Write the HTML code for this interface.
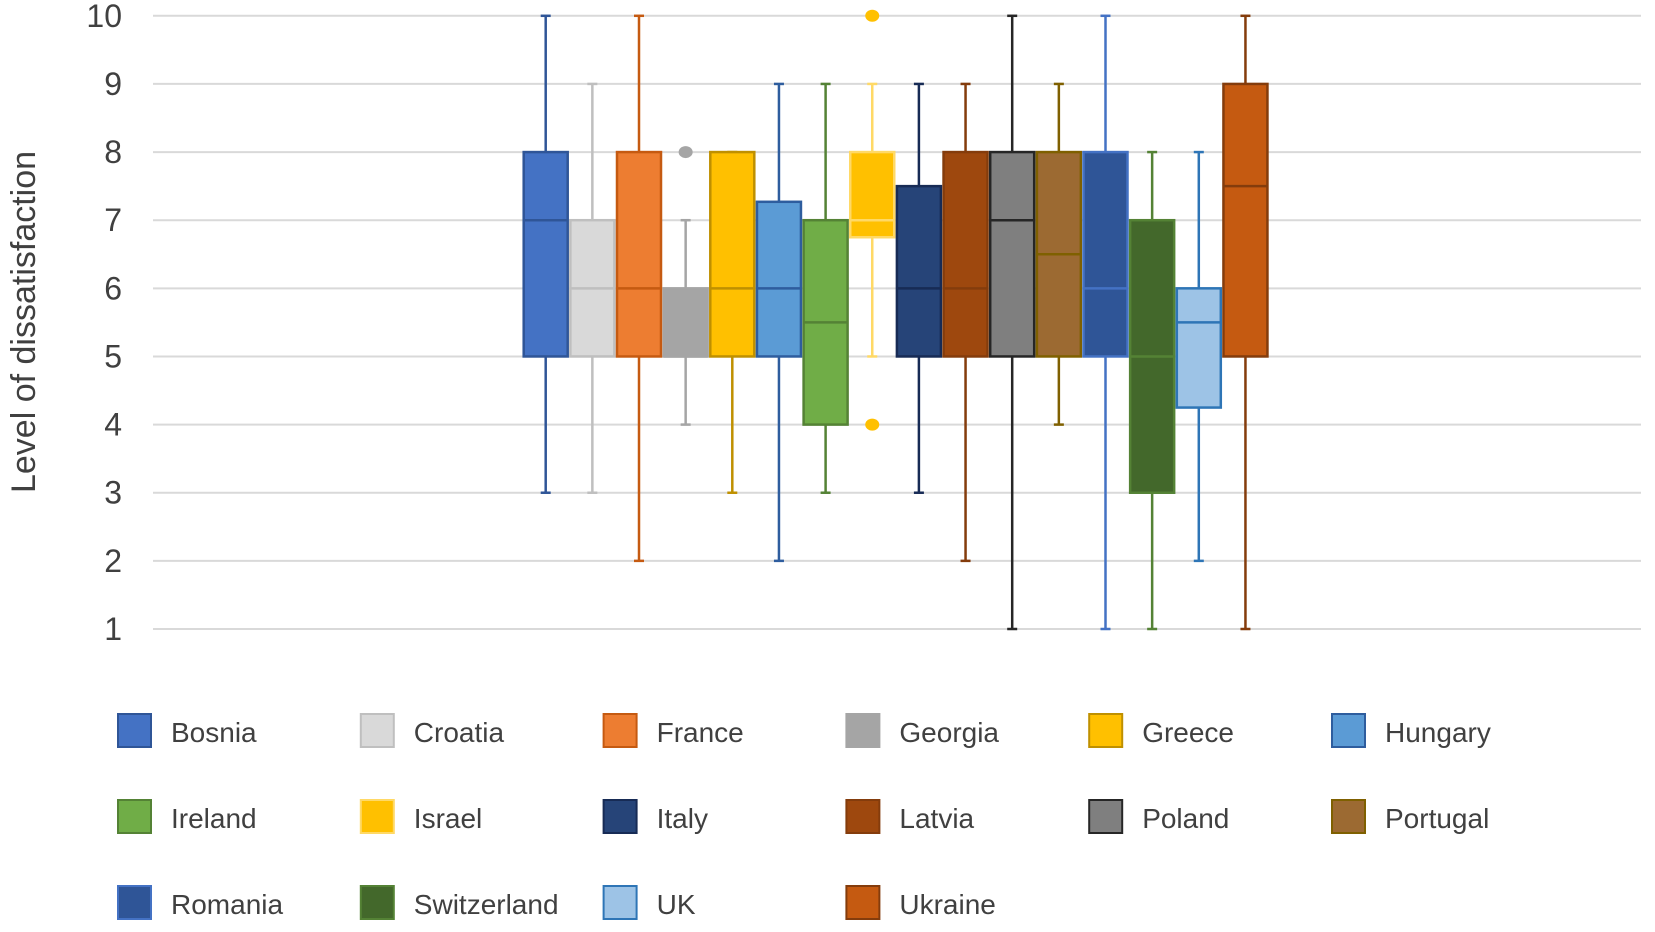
<!DOCTYPE html>
<html><head><meta charset="utf-8"><style>
html,body{margin:0;padding:0;background:#fff;}
svg{display:block;font-family:"Liberation Sans",sans-serif;}
</style></head><body>
<svg id="chart" width="1655" height="932" viewBox="0 0 1655 932" xmlns="http://www.w3.org/2000/svg">
<g id="grid"></g>
<g id="yticks"></g>
<text x="0" y="0" transform="translate(35,322) rotate(-90)" text-anchor="middle" font-size="34" fill="#404040">Level of dissatisfaction</text>
<g id="boxes"></g>
<g id="legend"></g>
</svg>
<script>
const categories=["Bosnia","Croatia","France","Georgia","Greece","Hungary","Ireland","Israel","Italy","Latvia","Poland","Portugal","Romania","Switzerland","UK","Ukraine"];
const mins=[3,3,2,4,3,2,3,5,3,2,1,4,1,1,2,1];
const q1s=[5,5,5,5,5,5,4,6.75,5,5,5,5,5,3,4.25,5];
const medians=[7,6,6,5,6,6,5.5,7,6,6,7,6.5,6,5,5.5,7.5];
const q3s=[8,7,8,6,8,7.27,7,8,7.5,8,8,8,8,7,6,9];
const maxs=[10,9,10,7,8,9,9,9,9,9,10,9,10,8,8,10];
const outliers=[[],[],[],[8],[],[],[],[4,10],[],[],[],[],[],[],[],[]];
const yTicks=[1,2,3,4,5,6,7,8,9,10];
const fills=["#4472c4","#d9d9d9","#ed7d31","#a5a5a5","#ffc000","#5b9bd5","#70ad47","#ffc000","#264478","#9e480e","#7f7f7f","#9c6a32","#2f5597","#43682b","#9dc3e6","#c55a11"];
const strokes=["#2f5597","#bfbfbf","#c55a11","#a5a5a5","#bf9000","#2e5d9e","#548235","#ffd966","#172b55","#843c0c","#262626","#7f6000","#4472c4","#548235","#2e75b6","#843c0c"];
const NS="http://www.w3.org/2000/svg";
const plotL=153,plotR=1641,yTop=15.8,yBot=629;
const y=v=>yBot-(v-1)*(yBot-yTop)/9;
const x=i=>545.7+i*46.65;
const bw=44;
function mk(tag,attrs,parent){const e=document.createElementNS(NS,tag);for(const k in attrs)e.setAttribute(k,attrs[k]);parent.appendChild(e);return e;}
const grid=document.getElementById('grid'),yt=document.getElementById('yticks'),bx=document.getElementById('boxes'),lg=document.getElementById('legend');
yTicks.forEach(t=>{
 const l=mk('line',{x1:plotL,x2:plotR,y1:y(t),y2:y(t),stroke:'#d9d9d9','stroke-width':2},grid);
 
 
 const tx=mk('text',{x:122,y:y(t)+11,'text-anchor':'end','font-size':32,fill:'#404040'},yt);
 tx.textContent=t;
 
 
});
categories.forEach((c,i)=>{
 const g=mk('g',{},bx);
 
 
 const cx=x(i),s=strokes[i];
 mk('line',{x1:cx,x2:cx,y1:y(maxs[i]),y2:y(mins[i]),stroke:s,'stroke-width':2.5},g);
 mk('line',{x1:cx-5,x2:cx+5,y1:y(maxs[i]),y2:y(maxs[i]),stroke:s,'stroke-width':2.5},g);
 mk('line',{x1:cx-5,x2:cx+5,y1:y(mins[i]),y2:y(mins[i]),stroke:s,'stroke-width':2.5},g);
 mk('rect',{x:cx-bw/2,y:y(q3s[i]),width:bw,height:y(q1s[i])-y(q3s[i]),fill:fills[i],stroke:s,'stroke-width':2.5},g);
 mk('line',{x1:cx-bw/2,x2:cx+bw/2,y1:y(medians[i]),y2:y(medians[i]),stroke:s,'stroke-width':2.5},g);
 outliers[i].forEach(o=>{
  const d=mk('ellipse',{cx:cx,cy:y(o),rx:7,ry:6,fill:fills[i]},g);
  
  
 });
});
categories.forEach((c,i)=>{
 const col=i%6,row=Math.floor(i/6);
 const lx=118+col*242.8,ly=731+row*86;
 const g=mk('g',{},lg);
 
 
 mk('rect',{x:lx,y:ly-17,width:33,height:33,fill:fills[i],stroke:strokes[i],'stroke-width':2},g);
 const t=mk('text',{x:lx+53,y:ly+11,'font-size':28,fill:'#404040'},g);
 t.textContent=c;
});
</script>
</body></html>
